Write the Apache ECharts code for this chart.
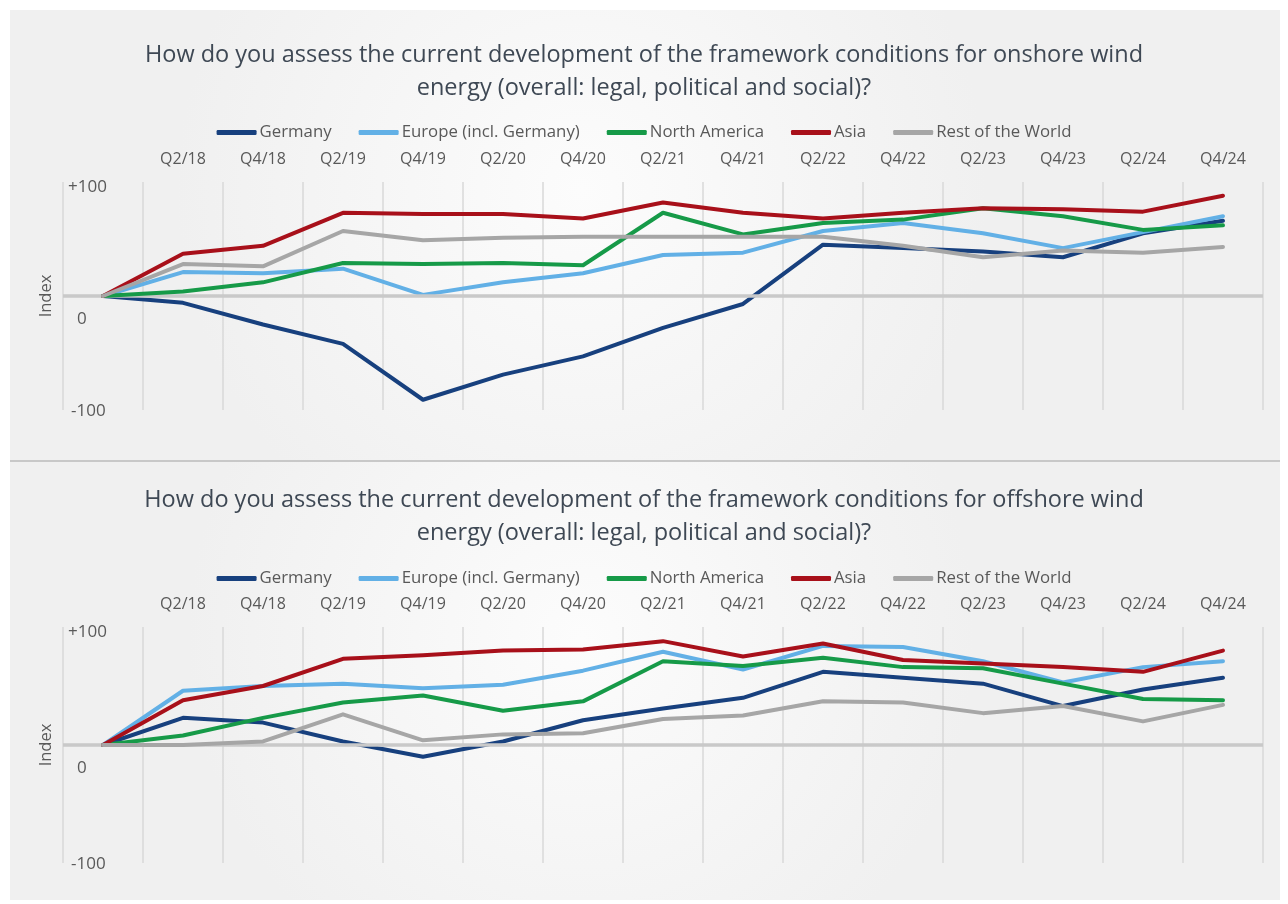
<!DOCTYPE html>
<html>
<head>
<meta charset="utf-8">
<script src="https://cdn.jsdelivr.net/npm/echarts@6/dist/echarts.min.js"></script>
<style>
html,body{margin:0;padding:0;background:#fff;}
#c{width:1288px;height:904px;}
</style>
</head>
<body>
<div id="c"></div>
<script>
// ---- Data ----
const categories = ['Q4/17','Q2/18','Q4/18','Q2/19','Q4/19','Q2/20','Q4/20','Q2/21','Q4/21','Q2/22','Q4/22','Q2/23','Q4/23','Q2/24','Q4/24'];
const seriesNames = ['Germany','Europe (incl. Germany)','North America','Asia','Rest of the World'];
const yTicks = [-100, 0, 100];

const titleOnshore = 'How do you assess the current development of the framework conditions for onshore wind\nenergy (overall: legal, political and social)?';
const titleOffshore = 'How do you assess the current development of the framework conditions for offshore wind\nenergy (overall: legal, political and social)?';

// Onshore
const onGermany = [0, -6, -25, -42, -91, -69, -53, -28, -7, 45, 42, 39, 34, 55, 66];
const onEurope  = [0, 21, 20, 24, 1, 12, 20, 36, 38, 57, 64, 55, 42, 56, 70];
const onNA      = [0, 4, 12, 29, 28, 29, 27, 73, 54, 64, 67, 77, 70, 58, 62];
const onAsia    = [0, 37, 44, 73, 72, 72, 68, 82, 73, 68, 73, 77, 76, 74, 88];
const onRoW     = [0, 28, 26, 57, 49, 51, 52, 52, 52, 52, 44, 34, 40, 38, 43];

// Offshore
const offGermany = [0, 23, 19, 3, -10, 3, 21, 31, 40, 62, 57, 52, 33, 47, 57];
const offEurope  = [0, 46, 50, 52, 48, 51, 63, 79, 64, 84, 83, 71, 53, 66, 71];
const offNA      = [0, 8, 23, 36, 42, 29, 37, 71, 67, 74, 66, 65, 52, 39, 38];
const offAsia    = [0, 38, 50, 73, 76, 80, 81, 88, 75, 86, 72, 69, 66, 62, 80];
const offRoW     = [0, 0, 3, 26, 4, 9, 10, 22, 25, 37, 36, 27, 33, 20, 34];

const colors = ['#17407e', '#62b0e6', '#169a48', '#a8101a', '#a6a6a6'];

const onData = [onGermany, onEurope, onNA, onAsia, onRoW];
const offData = [offGermany, offEurope, offNA, offAsia, offRoW];

const FONT = 'Open Sans';
const txt = '#595959';

const chart = echarts.init(document.getElementById('c'), null, {renderer: 'canvas'});

function xAxisFor(gridIndex) {
  return {
    type: 'category', gridIndex: gridIndex, position: 'top', data: categories, boundaryGap: true,
    axisLine: {show: false, onZero: false}, axisTick: {show: false},
    axisLabel: {
      interval: 0, margin: 15, color: txt, fontFamily: FONT, fontSize: 16,
      formatter: function (v, i) { return i === 0 ? '' : v; }
    },
    splitLine: {show: true, showMinLine: true, showMaxLine: true, lineStyle: {color: '#d9d9d9', width: 1.5}}
  };
}

function yAxisFor(gridIndex) {
  return {
    type: 'value', gridIndex: gridIndex, min: yTicks[0], max: yTicks[yTicks.length - 1], interval: 100,
    name: 'Index', nameLocation: 'middle', nameRotate: 90, nameGap: 7,
    nameTextStyle: {color: txt, fontFamily: FONT, fontSize: 16.5},
    axisLine: {show: false}, axisTick: {show: false},
    splitLine: {show: false},
    axisLabel: {
      inside: true, margin: 5, color: txt, fontFamily: FONT, fontSize: 17, align: 'left',
      formatter: function (v) {
        if (v > 0) return '{a|+' + v + '}';
        if (v === 0) return '{b|0}';
        return '{c|' + v + '}';
      },
      rich: {
        a: {color: txt, fontFamily: FONT, fontSize: 17, padding: [10, 0, 0, 0]},
        b: {color: txt, fontFamily: FONT, fontSize: 17, padding: [46, 0, 0, 9]},
        c: {color: txt, fontFamily: FONT, fontSize: 17, padding: [2, 0, 0, 3]}
      }
    }
  };
}

const series = [];
[0, 1].forEach(function (g) {
  series.push({
    name: 'zero', type: 'line', xAxisIndex: g, yAxisIndex: g, data: [], z: 1, silent: true,
    markLine: {
      silent: true, symbol: 'none', label: {show: false}, animation: false,
      lineStyle: {color: '#c9c9c9', width: 3.5, type: 'solid'},
      data: [{yAxis: 0}]
    }
  });
});
seriesNames.forEach(function (n, k) {
  series.push({
    name: n, type: 'line', xAxisIndex: 0, yAxisIndex: 0, data: onData[k],
    symbol: 'none', smooth: false, lineStyle: {width: 4, color: colors[k], cap: 'round', join: 'round'},
    itemStyle: {color: colors[k]}, z: 3 + k, animation: false
  });
});
seriesNames.forEach(function (n, k) {
  series.push({
    name: n, type: 'line', xAxisIndex: 1, yAxisIndex: 1, data: offData[k],
    symbol: 'none', smooth: false, lineStyle: {width: 4, color: colors[k], cap: 'round', join: 'round'},
    itemStyle: {color: colors[k]}, z: 3 + k, animation: false
  });
});

function legendFor(top) {
  return {
    data: seriesNames, top: top, left: 'center', itemWidth: 40, itemHeight: 5, itemGap: 27,
    icon: 'roundRect', selectedMode: false,
    textStyle: {color: txt, fontFamily: FONT, fontSize: 16.8, padding: [0, 0, 0, -2]}
  };
}

function bgGradient() {
  return new echarts.graphic.RadialGradient(0.45, 0.4, 0.9, [
    {offset: 0, color: '#fcfcfc'},
    {offset: 1, color: '#f0f0f0'}
  ]);
}

chart.setOption({
  animation: false,
  backgroundColor: '#ffffff',
  graphic: [
    {type: 'rect', left: 10, top: 10, shape: {width: 1270, height: 450}, style: {fill: bgGradient()}, z: -10, silent: true},
    {type: 'rect', left: 10, top: 462, shape: {width: 1270, height: 438}, style: {fill: bgGradient()}, z: -10, silent: true},
    {type: 'rect', left: 10, top: 460, shape: {width: 1270, height: 2}, style: {fill: '#c8c8c8'}, z: -9, silent: true}
  ],
  title: [
    {text: titleOnshore, left: 'center', top: 34, textStyle: {color: '#3e4854', fontFamily: FONT, fontSize: 23.5, fontWeight: 'normal', lineHeight: 33}},
    {text: titleOffshore, left: 'center', top: 479, textStyle: {color: '#3e4854', fontFamily: FONT, fontSize: 23.5, fontWeight: 'normal', lineHeight: 33}}
  ],
  legend: [legendFor(119), legendFor(565)],
  grid: [
    {left: 63, width: 1200, top: 182, height: 228, containLabel: false},
    {left: 63, width: 1200, top: 627, height: 236, containLabel: false}
  ],
  xAxis: [xAxisFor(0), xAxisFor(1)],
  yAxis: [yAxisFor(0), yAxisFor(1)],
  series: series
});
</script>
</body>
</html>
